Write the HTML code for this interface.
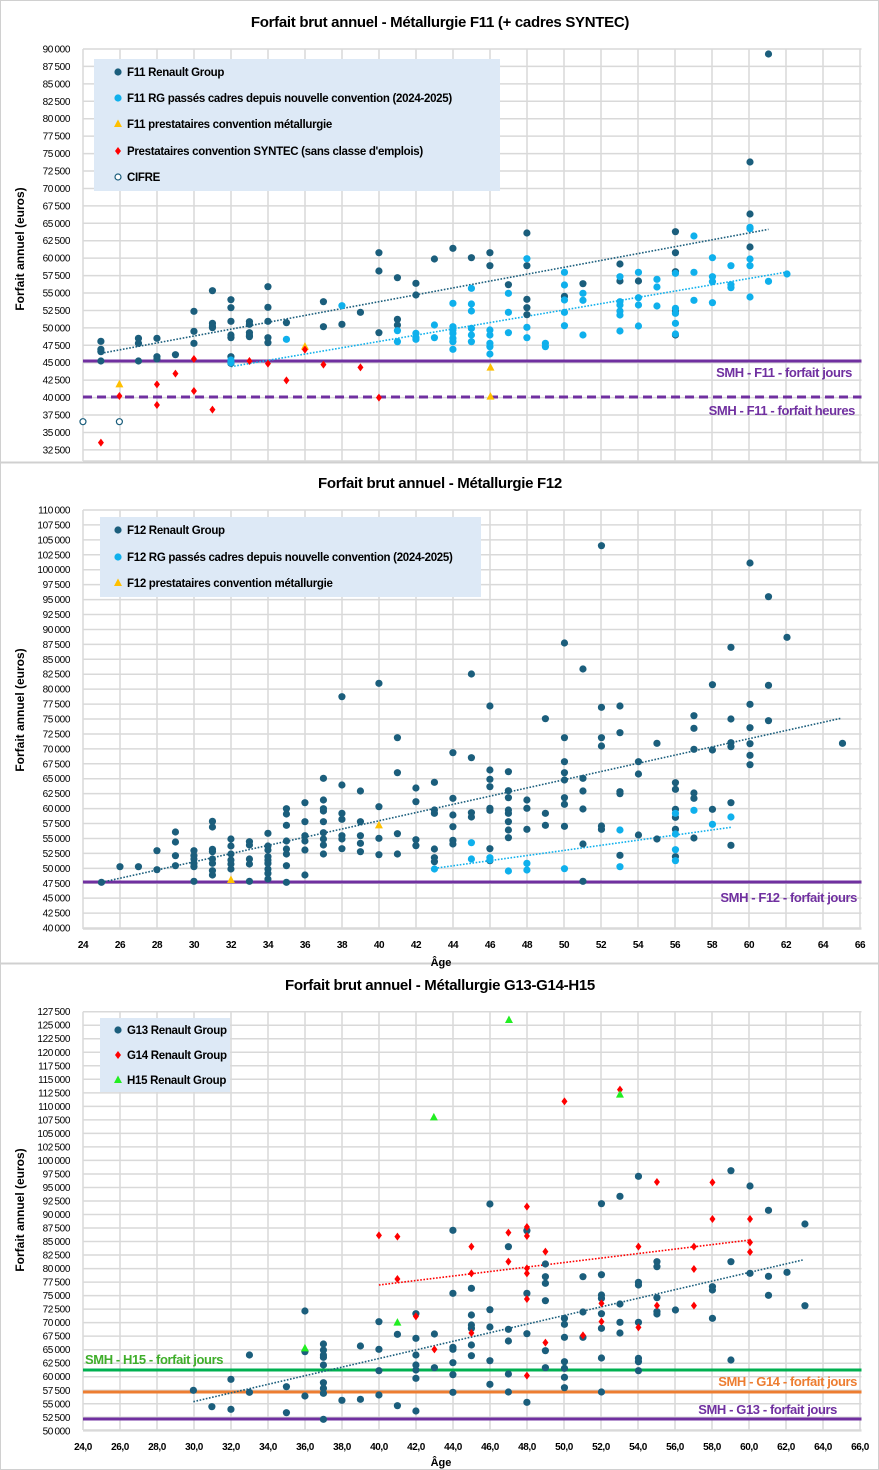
<!DOCTYPE html>
<html><head><meta charset="utf-8"><style>
html,body{margin:0;padding:0;background:#fff;width:879px;height:1470px;overflow:hidden}
svg{display:block;font-family:"Liberation Sans",sans-serif}
</style></head><body>
<svg id="s" width="879" height="1470" viewBox="0 0 879 1470" xmlns="http://www.w3.org/2000/svg"></svg>
<script>
const S=document.getElementById('s');let h='';
const DB='#1b5e7c',LB='#0fb0ec',OR='#ffc000',RD='#ff0000',GR='#22ee22',PU='#7030a0';
h+='<rect x="0.5" y="0.5" width="878" height="1469" fill="#fff" stroke="#d0d0d0"/>';
h+='<line x1="0" y1="462.5" x2="879" y2="462.5" stroke="#d0d0d0" stroke-width="2"/>';
h+='<line x1="0" y1="963.5" x2="879" y2="963.5" stroke="#d0d0d0" stroke-width="2"/>';
function fmt(v){let s=String(v);return s.length>3?s.slice(0,-3)+'\u2009'+s.slice(-3):s;}
function chart(c){
 const L=83,R=861.5;
 const yv=v=>c.top+(c.vmax-v)/2500*c.px;
 for(let v=c.vmax;v>=c.vmin;v-=2500){const y=yv(v);
  h+=`<line x1="${L}" y1="${y}" x2="${R}" y2="${y}" stroke="#d9d9d9" stroke-width="1.5"/>`;
  h+=`<text x="70" y="${y+3.5}" font-size="10" text-anchor="end" letter-spacing="-0.4" fill="#000">${fmt(v)}</text>`;}
 for(let a=24;a<=66;a+=2){const x=L+(a-24)*18.5;
  h+=`<line x1="${x}" y1="${c.top}" x2="${x}" y2="${c.bot}" stroke="#d9d9d9" stroke-width="1.5"/>`;
  if(c.xl) h+=`<text x="${x}" y="${c.xly}" font-size="10" text-anchor="middle" font-weight="bold" letter-spacing="-0.4">${c.xl==2?a+',0':a}</text>`;}
 h+=`<line x1="${L}" y1="${c.bot}" x2="${R}" y2="${c.bot}" stroke="#d9d9d9" stroke-width="1.5"/>`;
 h+=`<text x="440" y="${c.ty}" font-size="15" font-weight="bold" text-anchor="middle" letter-spacing="-0.3">${c.title}</text>`;
 const cy=c.lab;h+=`<text transform="translate(24,${cy}) rotate(-90)" font-size="12" font-weight="bold" text-anchor="middle">Forfait annuel (euros)</text>`;
 if(c.age) h+=`<text x="441" y="${c.age}" font-size="11" font-weight="bold" text-anchor="middle">Âge</text>`;
}
function mk(t,x,y,col){
 if(t=='o')h+=`<circle cx="${x}" cy="${y}" r="3.6" fill="${col}"/>`;
 else if(t=='c')h+=`<circle cx="${x}" cy="${y}" r="3" fill="#fff" stroke="${DB}" stroke-width="1.2"/>`;
 else if(t=='d')h+=`<polygon points="${x},${y-4} ${x+3},${y} ${x},${y+4} ${x-3},${y}" fill="${col}"/>`;
 else if(t=='t')h+=`<polygon points="${x},${y-4.5} ${x+4},${y+3} ${x-4},${y+3}" fill="${col}"/>`;
}
function pts(off,data,t,col){for(const k in data){for(const yz of data[k]) mk(t,(+k)/1.784,off+yz/3,col);}}
function pl(off,arr,t,col){for(const [a,b] of arr) mk(t,a/1.784,off+b/3,col);}
function trend(off,x1,y1,x2,y2,col){h+=`<line x1="${x1/1.784}" y1="${off+y1/3}" x2="${x2/1.784}" y2="${off+y2/3}" stroke="${col}" stroke-width="1.6" stroke-dasharray="1.6 1.6"/>`;}
function hl(y,col,dash){h+=`<line x1="83" y1="${y}" x2="861.5" y2="${y}" stroke="${col}" stroke-width="3" ${dash?'stroke-dasharray="9 5"':''}/>`;}
function lbl(x,y,t,col,anc){h+=`<text x="${x}" y="${y}" font-size="13" font-weight="bold" fill="${col}" text-anchor="${anc}" letter-spacing="-0.4">${t}</text>`;}
function legend(x,y,w,hh,items){h+=`<rect x="${x}" y="${y}" width="${w}" height="${hh}" fill="#dde9f6"/>`;
 for(const [t,col,yy,txt] of items){mk(t,118,yy-4,col);h+=`<text x="127" y="${yy}" font-size="11.5" font-weight="bold" letter-spacing="-0.3">${txt}</text>`;}}

// Chart 1
chart({top:49,bot:461,vmax:90000,vmin:32500,px:17.43,title:'Forfait brut annuel - Métallurgie F11 (+ cadres SYNTEC)',ty:27,lab:249});
hl(361,PU);hl(397,PU,true);
lbl(852,377,'SMH - F11 - forfait jours',PU,'end');lbl(855,415,'SMH - F11 - forfait heures',PU,'end');
trend(0,180,1060,1371,688,DB);trend(0,412,1100,1404,816,LB);
pts(0,{180:[1024,1048,1055,1083],247:[1015,1030,1083],280:[1015,1070,1077],313:[1064],346:[934,994,1030],379:[872,970,978,983],412:[899,923,964,1005,1013,1070,1090],445:[965,973,998,1005,1010],478:[860,922,964,1013,1028],511:[968],577:[905,980],610:[973],643:[937],676:[758,813,998],709:[833,958,975],742:[850,885],775:[777],808:[745],841:[773],874:[758,797],907:[854],940:[699,797,898,923,944],1007:[889],1040:[851],1106:[792,843],1139:[843],1205:[695,758,815,933,1005],1338:[486,642,741],1371:[162]},'o',DB);
pts(0,{412:[1080,1088],511:[1018],610:[917],709:[992,1025],742:[1000,1013,1018],775:[975,1013],808:[910,980,990,1000,1015,1025,1048],841:[865,912,933,985,1005,1025],874:[990,1005,1030,1040,1062],907:[880,937,998],940:[776,982,1013],973:[1030,1040],1007:[817,855,900,937,977],1040:[880,901,1005],1106:[830,905,915,933,945,993],1139:[817,893,915,978],1172:[838,861,918],1205:[820,925,940,970,1002],1238:[708,817,901],1271:[773,830,845,908],1304:[797,854,863],1338:[682,686,777,797,891],1371:[844],1404:[822]},'o',LB);
pl(0,[[213,1153],[544,1040],[875,1103],[875,1190]],'t',OR);
pl(0,[[180,1328],[213,1188],[280,1153],[280,1215],[313,1121],[346,1077],[346,1173],[379,1229],[445,1083],[478,1091],[511,1141],[544,1049],[577,1094],[643,1102],[676,1193]],'d',RD);
pl(0,[[148,1265],[213,1265]],'c');
legend(94,59,406,132,[['o',DB,76,'F11 Renault Group'],['o',LB,102,'F11 RG passés cadres depuis nouvelle convention (2024-2025)'],['t',OR,128,'F11 prestataires convention métallurgie'],['d',RD,155,'Prestataires convention SYNTEC (sans classe d\'emplois)'],['c',DB,181,'CIFRE']]);

// Chart 2
chart({top:510,bot:929,vmax:110000,vmin:40000,px:14.93,title:'Forfait brut annuel - Métallurgie F12',ty:488,lab:710,xl:1,xly:948,age:966});
hl(882,PU);lbl(857,902,'SMH - F12 - forfait jours',PU,'end');
trend(470,181,1237,1500,745,DB);trend(470,775,1195,1304,1072,LB);
pts(470,{181:[1237],214:[1190],247:[1190],280:[1142,1199],313:[1086,1116,1157,1187],346:[1142,1157,1167,1180,1190,1234],379:[1054,1071,1138,1145,1167,1180,1202,1215],412:[1107,1128,1152,1170,1182,1197],445:[1115,1125,1167,1182,1234],478:[1090,1128,1140,1160,1170,1180,1197,1210,1227],511:[1016,1032,1066,1113,1137,1152,1187,1237],544:[998,1055,1097,1113,1140,1215],577:[925,990,1016,1023,1055,1088,1107,1125,1152],610:[680,945,1030,1048,1097,1107,1136],643:[963,1055,1097,1120,1145],676:[640,1010,1105,1154],709:[803,908,1091,1152],742:[954,995,1109,1127],775:[937,1020,1030,1137,1163,1175],808:[848,985,1035,1070,1111,1122],841:[612,863,1028,1041],874:[708,900,928,950,1015,1021,1136,1172],907:[905,962,983,1020,1030,1055,1080,1103],940:[990,1015,1078],973:[746,1030,1066],1007:[519,803,875,908,930,983,1003,1069],1040:[597,925,963,1017,1122,1234],1073:[227,712,803,828,1068,1078],1106:[708,788,965,971,1156],1139:[875,912,1095],1172:[820,1107],1205:[938,958,1018,1042,1078,1160],1238:[737,775,838,969,985,1104],1271:[644,840,1018],1304:[532,747,818,830,998,1126],1338:[279,703,773,821,856,884],1371:[380,646,752],1404:[502],1503:[820]},'o',DB);
pts(470,{775:[1197],841:[1118,1167],874:[1163,1170],907:[1203],940:[1180,1200],1007:[1196],1106:[1080,1190],1205:[1030,1092,1139,1172],1238:[1021],1271:[1063],1304:[1041]},'o',LB);
pl(470,[[412,1230],[676,1066]],'t',OR);
legend(100,517,381,80,[['o',DB,534,'F12 Renault Group'],['o',LB,561,'F12 RG passés cadres depuis nouvelle convention (2024-2025)'],['t',OR,587,'F12 prestataires convention métallurgie']]);

// Chart 3
chart({top:1011.7,bot:1430,vmax:127500,vmin:50000,px:13.52,title:'Forfait brut annuel - Métallurgie G13-G14-H15',ty:990,lab:1210,xl:2,xly:1450,age:1466});
hl(1370,'#00b050');hl(1392,'#ed7d31');hl(1419,PU);
lbl(85,1364,'SMH - H15 - forfait jours','#3fae2a','start');lbl(857,1386,'SMH - G14 - forfait jours','#ed7d31','end');lbl(837,1414,'SMH - G13 - forfait jours',PU,'end');
trend(965,676,960,1338,825,RD);trend(965,345,1310,1432,885,DB);
pts(965,{345:[1276],378:[1325],412:[1243,1333],445:[1170,1282],511:[1265,1343],544:[1038,1160,1293],577:[1137,1155,1170,1177,1200,1253,1270,1285,1363],610:[1306],643:[1143,1303],676:[1070,1153,1217,1290],709:[1108,1322],742:[1046,1120,1170,1200,1215,1240,1338],775:[1107,1208],808:[796,985,1147,1153,1193,1229,1282],841:[970,1050,1080,1090,1140,1172],874:[717,1034,1086,1187,1258],907:[845,1093,1128,1227,1281],940:[797,985,1106,1312],973:[897,935,955,1007,1157,1208],1007:[1060,1078,1117,1190,1210,1237,1268],1040:[935,1041,1117],1073:[716,929,990,1000,1046,1090,1179,1281],1106:[694,1017,1072,1104],1139:[634,952,960,1072,1180,1190,1217],1172:[890,905,998,1040,1047],1205:[1035],1271:[965,975,1060],1304:[617,890,1185],1338:[663,925],1371:[736,934,991],1404:[922],1436:[777,1022]},'o',DB);
pts(965,{676:[811],709:[815,942],742:[1054],775:[1153],841:[845,925,1104],907:[803,890],940:[725,786,813,910,925,1002,1232],973:[860,1133],1040:[1111],1007:[409],1073:[1015,1070],1106:[374],1139:[845,1087],1172:[651,1022],1238:[845,912,1022],1271:[652,762],1338:[762,832,861]},'d',RD);
pl(965,[[908,165],[774,457],[1106,389],[709,1073],[544,1150]],'t',GR);
legend(100,1018,130,74,[['o',DB,1034,'G13 Renault Group'],['d',RD,1059,'G14 Renault Group'],['t',GR,1084,'H15 Renault Group']]);
S.innerHTML=h;
</script>
</body></html>
